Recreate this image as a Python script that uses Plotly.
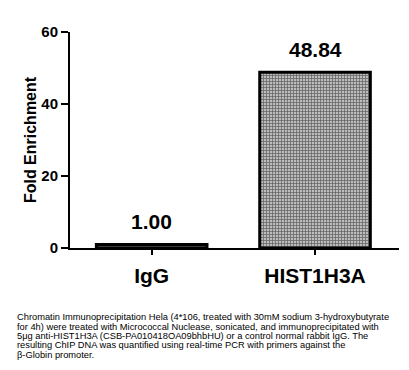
import plotly.graph_objects as go

categories = ["IgG", "HIST1H3A"]
values = [1.00, 48.84]
value_labels = ["1.00", "48.84"]
y_ticks = [0, 20, 40, 60]
caption_lines = [
    "Chromatin Immunoprecipitation Hela (4*106, treated with 30mM sodium 3-hydroxybutyrate",
    "for 4h) were treated with Micrococcal Nuclease, sonicated, and immunoprecipitated with",
    "5\u03bcg anti-HIST1H3A (CSB-PA010418OA09bhbHU) or a control normal rabbit IgG. The",
    "resulting ChIP DNA was quantified using real-time PCR with primers against the",
    "\u03b2-Globin promoter.",
]

FONT = "Arial, 'Liberation Sans', sans-serif"

fig = go.Figure()
fig.add_trace(go.Bar(
    x=categories, y=values, width=0.677,
    marker=dict(
        color="#a0a0a0",
        line=dict(color="black", width=3),
        pattern=dict(shape="+", size=3, solidity=0.45, fgcolor="#111111", bgcolor="#bcbcbc"),
    ),
    hoverinfo="skip",
))

for c, v, t in zip(categories, values, value_labels):
    fig.add_annotation(x=c, y=v, text=f"<b>{t}</b>", showarrow=False,
                       yanchor="bottom", yshift=9,
                       font=dict(family=FONT, size=21, color="black"))

# caption
plot_l, plot_r, plot_t, plot_b = 70, 399, 31.7, 247.7
W = plot_r - plot_l
H = plot_b - plot_t
for i, line in enumerate(caption_lines):
    py = 317 + i * 9.3
    fig.add_annotation(xref="paper", yref="paper",
                       x=(15 - plot_l) / W, y=(plot_b - py) / H,
                       xanchor="left", yanchor="middle", showarrow=False,
                       text=line, font=dict(family=FONT, size=9.3, color="black"))

fig.update_layout(
    width=409, height=370,
    margin=dict(l=plot_l, r=409 - plot_r, t=plot_t, b=370 - plot_b),
    plot_bgcolor="white", paper_bgcolor="white",
    showlegend=False,
    font=dict(family=FONT, color="black"),
)
fig.update_xaxes(
    range=[-0.5, 1.514], showline=True, linecolor="black", linewidth=2,
    ticks="outside", ticklen=5, tickwidth=2, tickcolor="black",
    tickfont=dict(family=FONT, size=21, color="black"),
    tickvals=categories, ticktext=[f"<b>{c}</b>" for c in categories],
    ticklabelstandoff=3,
    showgrid=False, zeroline=False,
)
fig.update_yaxes(
    range=[0, 60], showline=True, linecolor="black", linewidth=2,
    ticks="outside", ticklen=7, tickwidth=2, tickcolor="black",
    tickvals=y_ticks, ticktext=[f"<b>{v}</b>" for v in y_ticks],
    tickfont=dict(family=FONT, size=15, color="black"),
    title=dict(text="<b>Fold Enrichment</b>", font=dict(family=FONT, size=16, color="black"), standoff=1),
    showgrid=False, zeroline=False,
)

fig.write_html("out.html")
